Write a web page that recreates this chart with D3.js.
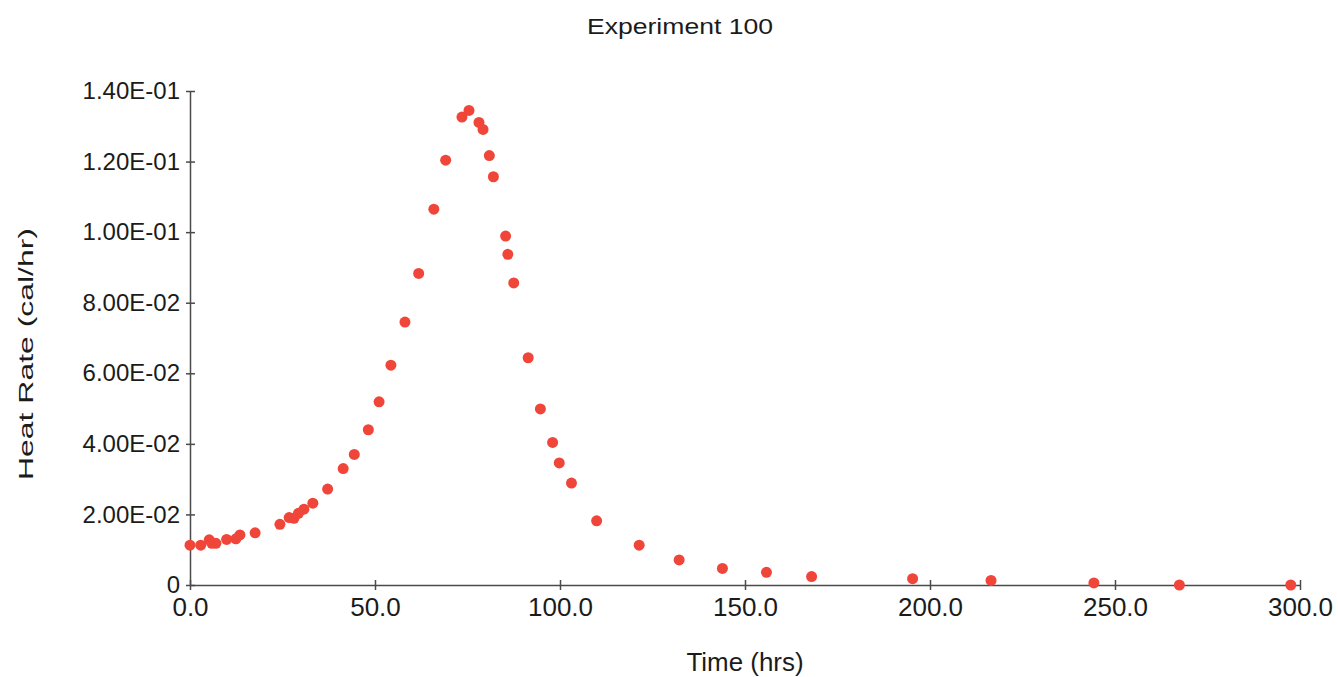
<!DOCTYPE html>
<html lang="en">
<head>
  <meta charset="UTF-8">
  <title>Experiment 100</title>
  <script src="https://d3js.org/d3.v7.min.js"></script>
  <style>
    body { margin: 0; background: #fff; }
    svg text { font-family: "Liberation Sans", Arial, Helvetica, sans-serif; fill: #1b1b1b; }
    .axis path, .axis line { stroke: #4a4a4a; stroke-width: 1.5px; }
  </style>
</head>
<body>
  <svg id="chart" width="1338" height="677"></svg>
  <script>
    const timeHrs = [0, 2.9, 5.2, 5.9, 7.0, 9.9, 12.4, 13.5, 17.6, 24.3, 26.8, 28.1, 29.3, 30.8, 33.2,
      37.2, 41.4, 44.4, 48.2, 51.1, 54.3, 58.1, 61.8, 65.9, 69.1, 73.5, 75.4, 78.1, 79.2, 80.9, 82.0,
      85.3, 85.9, 87.5, 91.4, 94.7, 98.0, 99.8, 103.1, 109.9, 121.4, 132.2, 143.9, 155.8, 168.0,
      195.3, 216.5, 244.3, 267.4, 297.5];
    const heatRate = [0.0113, 0.0113, 0.0128, 0.0118, 0.0118, 0.0129, 0.0131, 0.0142, 0.0148, 0.0172,
      0.0191, 0.0189, 0.0203, 0.0215, 0.0232, 0.0272, 0.0330, 0.0370, 0.0440, 0.0519, 0.0623, 0.0745,
      0.0883, 0.1065, 0.1204, 0.1326, 0.1345, 0.1311, 0.1291, 0.1217, 0.1157, 0.0989, 0.0937, 0.0856,
      0.0644, 0.0499, 0.0404, 0.0346, 0.0289, 0.0182, 0.0113, 0.0071, 0.0047, 0.0036, 0.0024,
      0.0018, 0.0013, 0.0006, 0.0000, 0.0000];

    const xTickValues = [0, 50, 100, 150, 200, 250, 300];
    const xTickLabels = ["0.0", "50.0", "100.0", "150.0", "200.0", "250.0", "300.0"];
    const yTickValues = [0, 0.02, 0.04, 0.06, 0.08, 0.10, 0.12, 0.14];
    const yTickLabels = ["0", "2.00E-02", "4.00E-02", "6.00E-02", "8.00E-02", "1.00E-01", "1.20E-01", "1.40E-01"];

    const svg = d3.select("#chart");

    const x = d3.scaleLinear().domain([0, 300]).range([190, 1300]);
    const y = d3.scaleLinear().domain([0, 0.14]).range([585, 91]);

    // x axis, ticks cross the line
    const xAxis = svg.append("g")
      .attr("class", "axis")
      .attr("transform", "translate(0,585)")
      .call(d3.axisBottom(x)
        .tickValues(xTickValues)
        .tickFormat((d, i) => xTickLabels[i])
        .tickSizeOuter(0)
        .tickSizeInner(5)
        .tickPadding(8));
    xAxis.selectAll(".tick line").attr("y1", -5).attr("y2", 5);
    xAxis.selectAll(".tick text")
      .style("font-size", "26px")
      .style("fill", "#1b1b1b");

    const yAxis = svg.append("g")
      .attr("class", "axis")
      .attr("transform", "translate(190,0)")
      .call(d3.axisLeft(y)
        .tickValues(yTickValues)
        .tickFormat((d, i) => yTickLabels[i])
        .tickSizeOuter(0)
        .tickSizeInner(4)
        .tickPadding(6));
    yAxis.selectAll(".tick line").attr("x1", -4).attr("x2", 5);
    yAxis.selectAll(".tick text")
      .style("font-size", "24px")
      .style("fill", "#1b1b1b");

    // points
    svg.append("g")
      .selectAll("circle")
      .data(timeHrs)
      .enter()
      .append("circle")
      .attr("cx", d => x(d))
      .attr("cy", (d, i) => y(heatRate[i]))
      .attr("r", 5.5)
      .attr("fill", "#f0463a");

    // titles
    svg.append("text")
      .attr("x", 680)
      .attr("y", 34)
      .attr("text-anchor", "middle")
      .attr("textLength", 186)
      .attr("lengthAdjust", "spacingAndGlyphs")
      .style("font-size", "22px")
      .text("Experiment 100");

    svg.append("text")
      .attr("x", 745)
      .attr("y", 671)
      .attr("text-anchor", "middle")
      .attr("textLength", 117)
      .attr("lengthAdjust", "spacingAndGlyphs")
      .style("font-size", "25px")
      .text("Time (hrs)");

    svg.append("text")
      .attr("transform", "translate(33,354) rotate(-90)")
      .attr("text-anchor", "middle")
      .attr("textLength", 252)
      .attr("lengthAdjust", "spacingAndGlyphs")
      .style("font-size", "21px")
      .text("Heat Rate  (cal/hr)");
  </script>
</body>
</html>
